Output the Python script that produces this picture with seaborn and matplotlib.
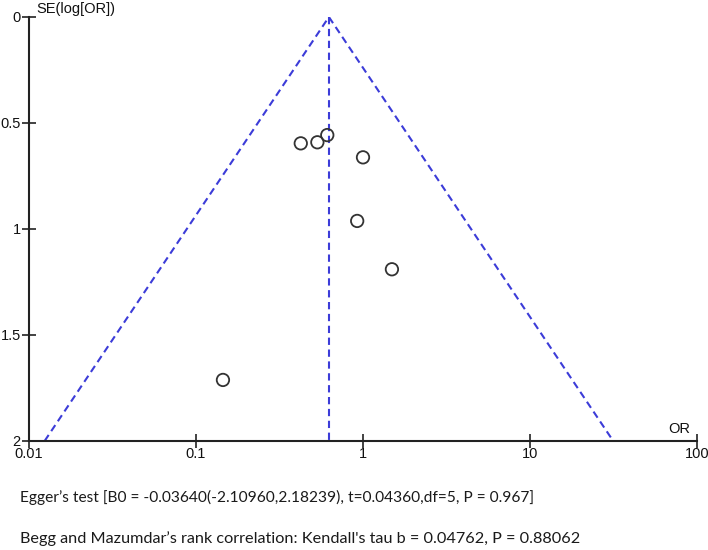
import numpy as np
import pandas as pd
import matplotlib
matplotlib.use("Agg")
import matplotlib.pyplot as plt
import seaborn as sns

# Data
study_or = [0.424, 0.533, 0.611, 1.00, 0.923, 1.49, 0.145]
study_se = [0.596, 0.591, 0.557, 0.662, 0.962, 1.19, 1.712]
pooled_or = 0.625
se_max = 2.0
x_ticks = [0.01, 0.1, 1, 10, 100]
x_tick_labels = ["0.01", "0.1", "1", "10", "100"]
y_ticks = [0, 0.5, 1, 1.5, 2]
y_tick_labels = ["0", "0.5", "1", "1.5", "2"]
egger_text = "Egger\u2019s test [B0 = -0.03640(-2.10960,2.18239), t=0.04360,df=5, P = 0.967]"
begg_text = "Begg and Mazumdar\u2019s rank correlation: Kendall's tau b = 0.04762, P = 0.88062"

sns.set_style("ticks")
plt.rcParams['font.family'] = ['Liberation Sans', 'DejaVu Sans']

W, H = 708, 550
fig = plt.figure(figsize=(W / 100, H / 100), dpi=100)
ax = fig.add_axes([29 / W, 1 - 441 / H, (697 - 29) / W, (441 - 17) / H])

df = pd.DataFrame({"OR": study_or, "SE": study_se})

# funnel (pseudo 95% confidence limits)
blue = "#3c3cd8"
lo = pooled_or * np.exp(-1.96 * se_max)
hi = pooled_or * np.exp(1.96 * se_max)
funnel = pd.DataFrame({"OR": [lo, pooled_or, hi], "SE": [se_max, 0, se_max]})
ax.plot(funnel["OR"], funnel["SE"], color=blue, lw=1.5, ls=(0, (3.5, 2.2)))
ax.plot([pooled_or, pooled_or], [0, se_max], color=blue, lw=1.5, ls=(0, (3.5, 2.2)))

sns.scatterplot(data=df, x="OR", y="SE", ax=ax, s=80, facecolor="none",
                edgecolor="#333333", linewidth=1.3, zorder=3)

ax.set_xscale("log")
ax.set_xlim(0.01, 100)
ax.set_ylim(2, 0)
ax.set_xticks(x_ticks)
ax.set_xticklabels(x_tick_labels)
ax.set_yticks(y_ticks)
ax.set_yticklabels(y_tick_labels)
ax.minorticks_off()
ax.set_xlabel("")
ax.set_ylabel("")
for s in ["top", "right"]:
    ax.spines[s].set_visible(False)
for s in ["left", "bottom"]:
    ax.spines[s].set_color("#222222")
    ax.spines[s].set_linewidth(1.5)
ax.tick_params(axis="both", which="major", direction="inout", length=10, width=1.2,
               color="#222222", labelsize=10.5, labelcolor="#111111",
               bottom=True, left=True, top=False, right=False)
ax.tick_params(axis="x", pad=-1)
ax.tick_params(axis="y", pad=1)
ax.patch.set_alpha(0)

ax.text(0.957, 0.012, "OR", transform=ax.transAxes, fontsize=10.5,
        color="#111111", ha="left", va="bottom")
fig.text(36 / W, 1 - 9 / H, "SE(log[OR])", fontsize=10.5, color="#111111",
         ha="left", va="center")

# bottom annotations, fitted to the reference width
renderer = fig.canvas.get_renderer()
for txt, y, target in [(egger_text, 497, 515), (begg_text, 539, 559)]:
    t = fig.text(20 / W, 1 - y / H, txt, fontsize=11, family=["Lato", "DejaVu Sans"],
                 color="#1a1a1a", ha="left", va="center")
    w = t.get_window_extent(renderer).width
    t.set_fontsize(11 * target / w)

fig.savefig("out.png", dpi=100)
